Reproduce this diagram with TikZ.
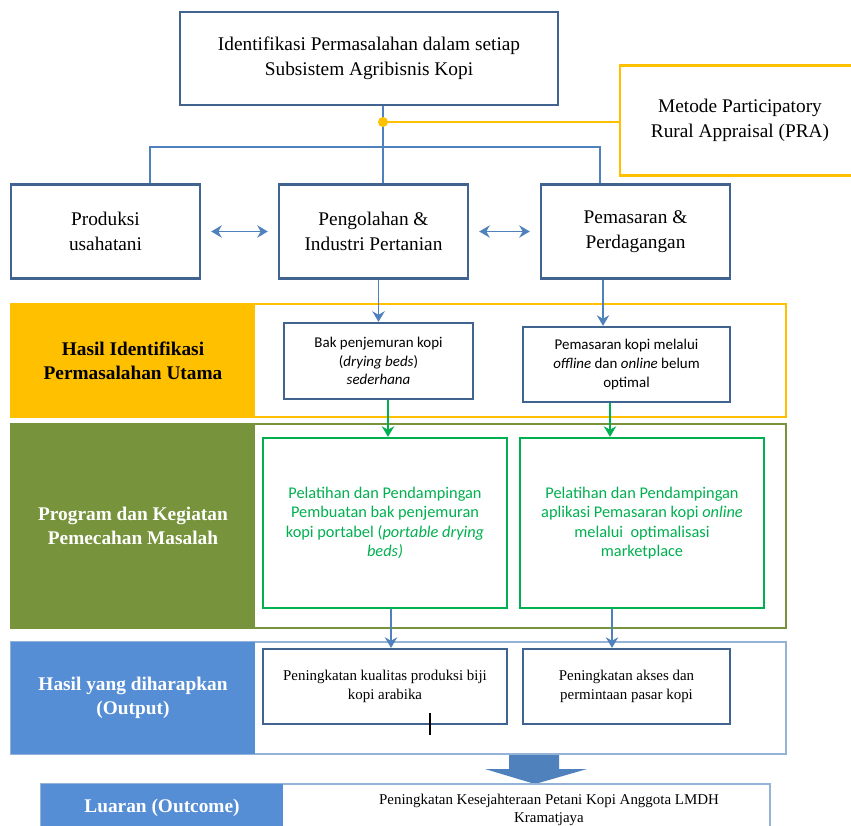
\documentclass[tikz,border=0pt]{standalone}
\usepackage{fontspec}
\setmainfont{Liberation Serif}
\newfontfamily\calfont{Carlito}
\usetikzlibrary{arrows.meta,positioning,calc}
\definecolor{boxblue}{HTML}{41638F}
\definecolor{lineblue}{HTML}{4F81BD}
\definecolor{ylw}{HTML}{FFC000}
\definecolor{olive}{HTML}{77933C}
\definecolor{grn}{HTML}{00B050}
\definecolor{fillblue}{HTML}{558ED5}
\definecolor{lightblue}{HTML}{95B3D7}

\begin{document}
\begin{tikzpicture}[
  x=0.02cm,y=-0.02cm,>={Stealth[length=6pt,width=7pt]},
  box/.style={draw=boxblue, line width=1.4pt, fill=white, align=center, inner sep=2pt, font=\fontsize{11}{14}\selectfont},
  sbox/.style={draw=boxblue, line width=1.3pt, fill=white, align=center, inner sep=2pt, font=\calfont\fontsize{8.5}{10.6}\selectfont},
  obox/.style={draw=boxblue, line width=1.3pt, fill=white, align=center, inner sep=2pt, font=\fontsize{8.5}{10.6}\selectfont},
  gbox/.style={draw=grn, line width=1.3pt, fill=white, text=grn, align=center, inner sep=2pt, font=\calfont\fontsize{9.3}{11}\selectfont},
  band/.style={line width=1.2pt, fill=white, minimum width=15.5cm, inner sep=0pt},
  lbl/.style={align=center, inner sep=0pt, minimum width=4.88cm, font=\bfseries\fontsize{11}{13.6}\selectfont},
  bline/.style={line width=1.1pt, color=lineblue},
  barr/.style={->, line width=1.1pt, color=lineblue},
  garr/.style={->, line width=1.1pt, color=grn},
  dbl/.style={<->, line width=1.1pt, color=lineblue, shorten >=0.2cm, shorten <=0.2cm},
]
\useasboundingbox (0,0) rectangle (851,825);

% top level
\node[box, minimum width=7.56cm, minimum height=1.86cm] (ident) at (369,58.5) {Identifikasi Permasalahan dalam setiap\\Subsistem Agribisnis Kopi};
\node[box, draw=ylw, minimum width=4.8cm, minimum height=2.2cm] (pra) at (740,120.5) {Metode Participatory\\Rural Appraisal (PRA)};
\node[box, minimum width=3.78cm, minimum height=1.88cm] (prod) at (105.5,231.5) {Produksi\\usahatani};
\node[box, minimum width=3.78cm, minimum height=1.88cm] (olah) at (373.5,231.5) {Pengolahan \&\\Industri Pertanian};
\node[box, minimum width=3.78cm, minimum height=1.88cm] (pasar) at (635.5,231.5) {Pemasaran \&\\Perdagangan};
\coordinate (dot) at (383,122);
\coordinate (hubL) at (150,147);
\coordinate (hubR) at (600,147);
\draw[bline] (ident.south -| dot) -- (olah.north -| dot);
\draw[bline] (prod.north -| hubL) |- (hubR) -- (pasar.north -| hubR);
\draw[line width=1.5pt, color=ylw] (dot) -- (pra.west |- dot);
\fill[ylw] (dot) circle (5);
\draw[dbl] (prod) -- (olah);
\draw[dbl] (olah) -- (pasar);

% band 1: hasil identifikasi
\node[band, draw=ylw, minimum height=2.26cm] (hasil) at (398.5,360.5) {};
\node[lbl, fill=ylw, minimum height=2.26cm] (hasilL) at (133,360.5) {Hasil Identifikasi\\Permasalahan Utama};
\node[sbox, minimum width=3.78cm, minimum height=1.52cm] (bak) at (378.5,361) {Bak penjemuran kopi\\(\textit{drying beds})\\\textit{sederhana}};
\node[sbox, minimum width=4.14cm, minimum height=1.5cm] (online) at (626.5,364.5) {Pemasaran kopi melalui\\\textit{offline} dan \textit{online} belum\\optimal};
\coordinate (c1) at (603,0);
\draw[barr] (olah.south -| bak) -- (bak.north);
\draw[barr] (pasar.south -| c1) -- (online.north -| c1);

% band 2: program
\node[band, draw=olive, minimum height=4.08cm] (prog) at (398.5,526) {};
\node[lbl, fill=olive, text=white, minimum height=4.08cm] (progL) at (133,526) {Program dan Kegiatan\\Pemecahan Masalah};
\node[gbox, minimum width=4.88cm, minimum height=3.4cm] (latih1) at (385,523) {Pelatihan dan Pendampingan\\Pembuatan bak penjemuran\\kopi portabel (\textit{portable drying}\\\textit{beds)}};
\node[gbox, minimum width=4.88cm, minimum height=3.4cm] (latih2) at (642,523) {Pelatihan dan Pendampingan\\aplikasi Pemasaran kopi \textit{online}\\melalui\ \ optimalisasi\\marketplace};
\coordinate (c2) at (388,0);
\coordinate (c3) at (610,0);
\draw[garr] (bak.south -| c2) -- (latih1.north -| c2);
\draw[garr] (online.south -| c3) -- (latih2.north -| c3);

% band 3: output
\node[band, draw=lightblue, minimum height=2.24cm] (hasil2) at (398.5,698) {};
\node[lbl, fill=fillblue, text=white, minimum height=2.24cm] (hasil2L) at (133,698) {Hasil yang diharapkan\\(Output)};
\node[obox, minimum width=4.88cm, minimum height=1.5cm] (kual) at (385,686.5) {Peningkatan kualitas produksi biji\\kopi arabika};
\node[obox, minimum width=4.14cm, minimum height=1.5cm] (akses) at (626.5,686.5) {Peningkatan akses dan\\permintaan pasar kopi};
\coordinate (c4) at (391,0);
\coordinate (c5) at (612,0);
\draw[barr] (latih1.south -| c4) -- (kual.north -| c4);
\draw[barr] (latih2.south -| c5) -- (akses.north -| c5);
\draw[line width=0.6pt] (430,713) -- (430,735);

% block arrow and outcome
\fill[lineblue] (509,755) -- (559,755) -- (559,769) -- (587,769) -- (535,784) -- (485,769) -- (509,769) -- cycle;
\node[band, draw=lightblue, minimum width=14.58cm, minimum height=1.12cm] (luaran) at (405.5,812) {};
\node[lbl, fill=fillblue, text=white, minimum width=4.84cm, minimum height=1.12cm] (luaranL) at (162,812) {};
\node[font=\bfseries\fontsize{11}{13.6}\selectfont, text=white] at (162,808) {Luaran (Outcome)};
\node[align=center, font=\fontsize{8.5}{10}\selectfont] (sejahtera) at (549,810) {Peningkatan Kesejahteraan Petani Kopi Anggota LMDH\\Kramatjaya};
\end{tikzpicture}
\end{document}
